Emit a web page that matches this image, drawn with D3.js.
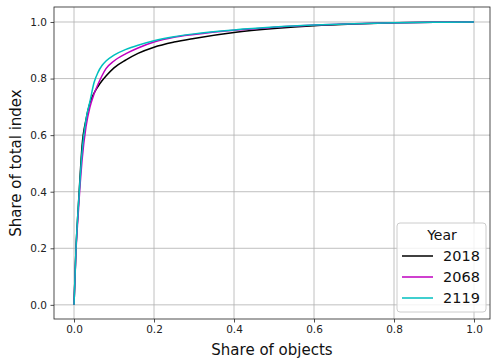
<!DOCTYPE html>
<html>
<head>
<meta charset="utf-8">
<script src="https://cdn.jsdelivr.net/npm/d3@7"></script>
<style>
  body { margin: 0; background: #fff; }
  svg { font-family: "DejaVu Sans", sans-serif; }
</style>
</head>
<body>
<div id="chart"></div>
<script>
// Data
const years = ["2018", "2068", "2119"];
const colors = ["#000000", "#bf00bf", "#00bfbf"];
const shareObjects = [0, 0.005, 0.01, 0.015, 0.02, 0.03, 0.04, 0.05, 0.06, 0.07, 0.08, 0.1, 0.13, 0.16, 0.2, 0.25, 0.3, 0.4, 0.5, 0.6, 0.7, 0.8, 0.9, 1.0];
const share2018 = [0, 0.2, 0.33, 0.45, 0.56, 0.655, 0.715, 0.748, 0.772, 0.792, 0.809, 0.838, 0.866, 0.889, 0.911, 0.929, 0.942, 0.963, 0.977, 0.987, 0.993, 0.997, 0.999, 1.0];
const share2068 = [0, 0.19, 0.31, 0.42, 0.51, 0.63, 0.70, 0.745, 0.78, 0.81, 0.835, 0.862, 0.888, 0.908, 0.929, 0.946, 0.956, 0.971, 0.981, 0.989, 0.994, 0.997, 0.999, 1.0];
const share2119 = [0, 0.2, 0.33, 0.44, 0.54, 0.655, 0.72, 0.785, 0.822, 0.846, 0.862, 0.883, 0.903, 0.918, 0.934, 0.948, 0.958, 0.972, 0.982, 0.989, 0.994, 0.997, 0.999, 1.0];
const xTicks = [0, 0.2, 0.4, 0.6, 0.8, 1.0];
const yTicks = [0, 0.2, 0.4, 0.6, 0.8, 1.0];

const series = [share2018, share2068, share2119].map((vals, i) => ({
  year: years[i],
  color: colors[i],
  points: shareObjects.map((x, j) => [x, vals[j]])
}));

const width = 492, height = 360;
const margin = { left: 54, right: 2, top: 7, bottom: 41 };

const svg = d3.select("#chart").append("svg")
  .attr("width", width)
  .attr("height", height);

const x = d3.scaleLinear().domain([-0.05, 1.04]).range([margin.left, width - margin.right]);
const y = d3.scaleLinear().domain([-0.05, 1.053]).range([height - margin.bottom, margin.top]);

// grid
svg.append("g").selectAll("line").data(xTicks).join("line")
  .attr("x1", d => x(d)).attr("x2", d => x(d))
  .attr("y1", margin.top).attr("y2", height - margin.bottom)
  .attr("stroke", "#b0b0b0").attr("stroke-width", 0.8);
svg.append("g").selectAll("line").data(yTicks).join("line")
  .attr("x1", margin.left).attr("x2", width - margin.right)
  .attr("y1", d => y(d)).attr("y2", d => y(d))
  .attr("stroke", "#b0b0b0").attr("stroke-width", 0.8);

// axes
const xAxis = svg.append("g")
  .attr("transform", `translate(0,${height - margin.bottom})`)
  .call(d3.axisBottom(x).tickValues(xTicks).tickFormat(d3.format(".1f")).tickSizeOuter(0).tickSize(3.5).tickPadding(3.5));
const yAxis = svg.append("g")
  .attr("transform", `translate(${margin.left},0)`)
  .call(d3.axisLeft(y).tickValues(yTicks).tickFormat(d3.format(".1f")).tickSizeOuter(0).tickSize(3.5).tickPadding(3.5));
[xAxis, yAxis].forEach(a => {
  a.select(".domain").remove();
  a.selectAll("text").attr("font-size", 10.5).attr("font-family", "DejaVu Sans").attr("fill", "#222");
  a.selectAll("line").attr("stroke", "#222").attr("stroke-width", 0.8);
});

// spines
svg.append("rect")
  .attr("x", margin.left).attr("y", margin.top)
  .attr("width", width - margin.right - margin.left)
  .attr("height", height - margin.bottom - margin.top)
  .attr("fill", "none").attr("stroke", "#222").attr("stroke-width", 0.8);

// lines
const line = d3.line().x(d => x(d[0])).y(d => y(d[1])).curve(d3.curveMonotoneX);
svg.append("g").selectAll("path").data(series).join("path")
  .attr("d", d => line(d.points))
  .attr("fill", "none")
  .attr("stroke", d => d.color)
  .attr("stroke-width", 1.5);

// axis labels
svg.append("text")
  .attr("x", (x(-0.05) + x(1.04)) / 2).attr("y", 355)
  .attr("text-anchor", "middle").attr("font-size", 15).attr("fill", "#111")
  .text("Share of objects");
svg.append("text")
  .attr("transform", `translate(21,${(y(-0.05) + y(1.053)) / 2}) rotate(-90)`)
  .attr("text-anchor", "middle").attr("font-size", 15).attr("fill", "#111")
  .text("Share of total index");

// legend
const lg = svg.append("g").attr("transform", "translate(397,223)");
lg.append("rect")
  .attr("width", 89).attr("height", 89).attr("rx", 3)
  .attr("fill", "#fff").attr("fill-opacity", 0.8)
  .attr("stroke", "#cccccc").attr("stroke-width", 1);
lg.append("text")
  .attr("x", 45).attr("y", 17)
  .attr("text-anchor", "middle").attr("font-size", 14).attr("fill", "#111")
  .text("Year");
const item = lg.selectAll("g.item").data(series).join("g")
  .attr("class", "item")
  .attr("transform", (d, i) => `translate(0,${33 + i * 21})`);
item.append("line")
  .attr("x1", 5).attr("x2", 36)
  .attr("stroke", d => d.color).attr("stroke-width", 1.5);
item.append("text")
  .attr("x", 46).attr("y", 5)
  .attr("font-size", 14.5).attr("fill", "#111")
  .text(d => d.year);
</script>
</body>
</html>
